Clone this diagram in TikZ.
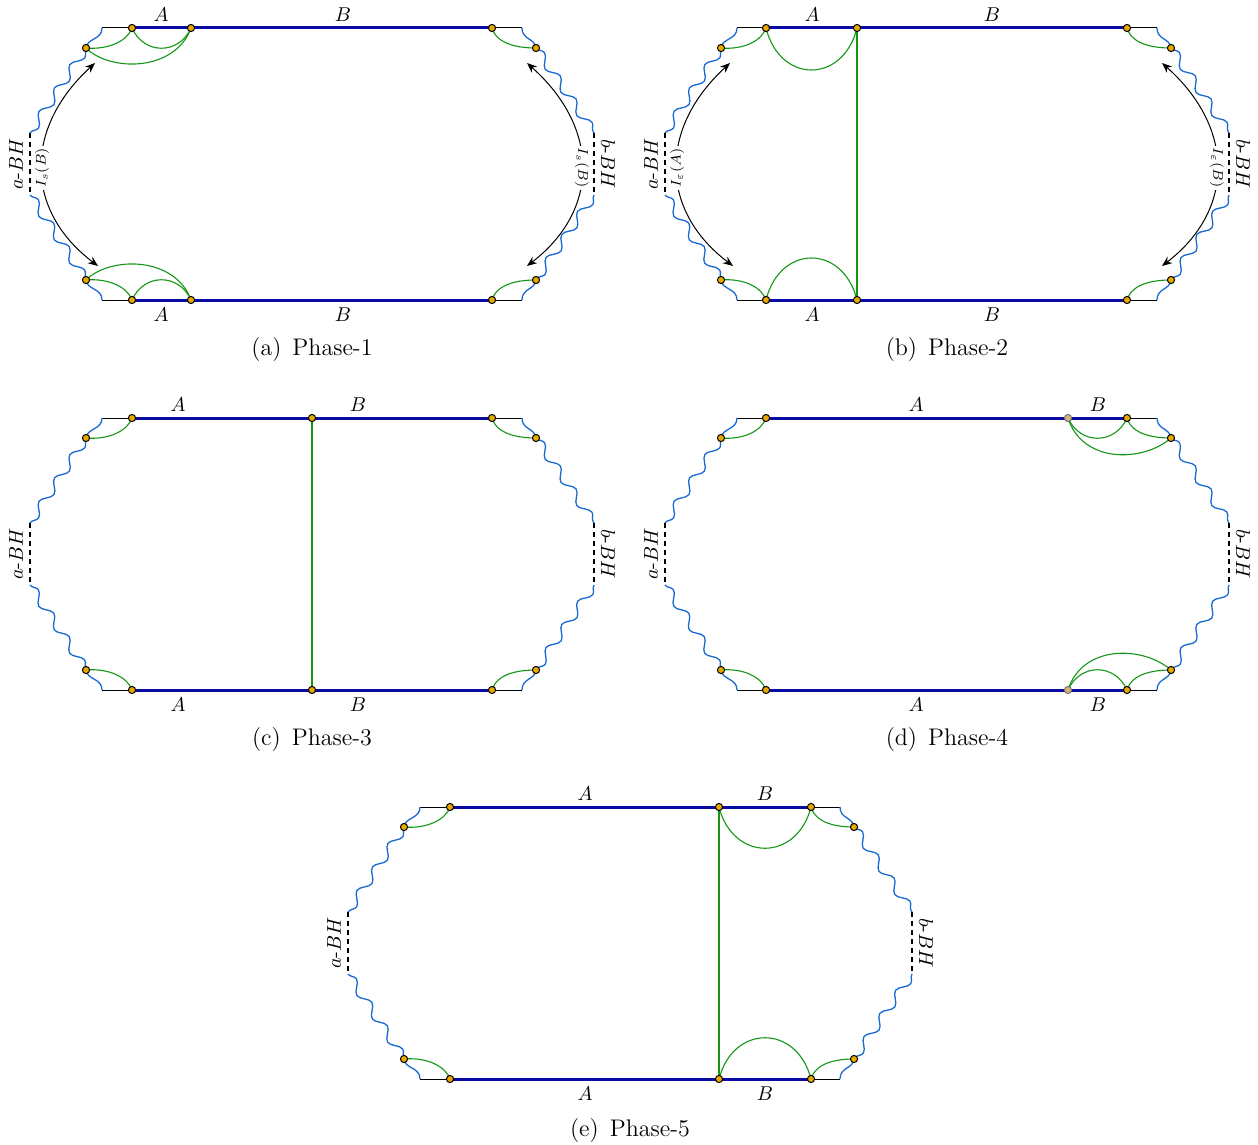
\documentclass[tikz,border=0pt]{standalone}
\usetikzlibrary{decorations.pathmorphing,arrows.meta}
\pgfdeclarelayer{fg}
\pgfsetlayers{main,fg}
\definecolor{dotfill}{RGB}{232,168,0}
\definecolor{dotlightfill}{RGB}{214,182,115}
\definecolor{thickblue}{RGB}{10,10,165}
\definecolor{wavecol}{RGB}{25,105,210}
\definecolor{arcgreen}{RGB}{20,150,20}
\tikzset{
  dot/.style={circle,draw=black,fill=dotfill,line width=0.5pt,inner sep=0pt,minimum size=3.6pt},
  dotlight/.style={circle,draw=black!55,fill=dotlightfill,line width=0.5pt,inner sep=0pt,minimum size=3.6pt},
  edge/.style={draw=black,line width=0.5pt},
  bluebar/.style={draw=thickblue,line width=1.5pt},
  wave/.style={draw=wavecol,line width=0.65pt},
  snk/.style={decorate,decoration={snake,segment length=14pt,amplitude=2.2pt}},
  bh/.style={draw=black,line width=0.9pt,dash pattern=on 2.5pt off 2pt},
  garc/.style={draw=arcgreen,line width=0.55pt},
  bharrow/.style={draw=black,line width=0.5pt,{Stealth[length=5pt,width=4pt]}-{Stealth[length=5pt,width=4pt]}},
  ilab/.style={fill=white,inner sep=1pt,font=\scriptsize},
  lab/.style={inner sep=1pt},
  captext/.style={inner sep=1pt,font=\large}
}
\newcommand\mkframe[1]{%
  \coordinate (#1tl) at (-210,0);
  \coordinate (#1tr) at (210,0);
  \coordinate (#1bl) at (-210,272);
  \coordinate (#1br) at (210,272);
  \coordinate (#1dla) at (-282,105);
  \coordinate (#1dlb) at (-282,167);
  \coordinate (#1dra) at (282,105);
  \coordinate (#1drb) at (282,167);
  \begin{pgfonlayer}{fg}
    \node[dot] (#1slt) at (-226,20) {};
    \node[dot] (#1srt) at (224,20) {};
    \node[dot] (#1slb) at (-226,252) {};
    \node[dot] (#1srb) at (224,252) {};
  \end{pgfonlayer}
  \draw[edge] (#1tl) -- (#1tr);
  \draw[edge] (#1bl) -- (#1br);
  \draw[wave] (#1tl) .. controls +(0,12) and +(1,-10) .. (#1slt.center);
  \draw[wave,snk] (#1slt.center) -- (#1dla);
  \draw[wave,snk] (#1dlb) -- (#1slb.center);
  \draw[wave] (#1slb.center) .. controls +(1,10) and +(0,-12) .. (#1bl);
  \draw[wave] (#1tr) .. controls +(0,12) and +(-1,-10) .. (#1srt.center);
  \draw[wave,snk] (#1srt.center) -- (#1dra);
  \draw[wave,snk] (#1drb) -- (#1srb.center);
  \draw[wave] (#1srb.center) .. controls +(-1,10) and +(0,-12) .. (#1br);
  \draw[bh] (#1dla) -- (#1dlb);
  \draw[bh] (#1dra) -- (#1drb);
  \node[rotate=90] (#1lbha) at (-296,136) {$a$-$BH$};
  \node[rotate=-90] (#1lbhb) at (296,136) {$b$-$BH$};
}
% side arcs: #1 prefix, #2 top-left inner dot, #3 top-right inner dot, #4 bottom-left inner, #5 bottom-right inner
\newcommand\sidearcs[5]{%
  \draw[garc] (#1slt.center) .. controls +(24,2) and +(-4,12) .. (#2.center);
  \draw[garc] (#3.center) .. controls +(5,17) and +(-16,0) .. (#1srt.center);
  \draw[garc] (#1slb.center) .. controls +(24,-2) and +(-4,-12) .. (#4.center);
  \draw[garc] (#5.center) .. controls +(5,-17) and +(-16,0) .. (#1srb.center);
}
\newcommand\bharrows[3]{%
  \coordinate (#1ala) at (-214,238);
  \coordinate (#1alb) at (-217,35);
  \coordinate (#1ara) at (215,35);
  \coordinate (#1arb) at (215,238);
  \draw[bharrow] (#1ala) .. controls (-288,182) and (-288,100) .. (#1alb)
     node[ilab,pos=0.5,rotate=90] (#1il) {#2};
  \draw[bharrow] (#1ara) .. controls (288,100) and (288,182) .. (#1arb)
     node[ilab,pos=0.5,rotate=-90] (#1ir) {#3};
}
\newcommand\captxt[2]{(#1)\hspace{5.5pt}Phase-#2}
\begin{document}
\begin{tikzpicture}[x=0.5pt,y=-0.5pt]
\useasboundingbox (0,0) rectangle (1258,1145);

% ---------------- (a) Phase-1
\begin{scope}[shift={(312,28)}]
  \mkframe{a}
  \begin{pgfonlayer}{fg}
    \node[dot] (at1) at (-180,0) {};
    \node[dot] (at2) at (-121,0) {};
    \node[dot] (at3) at (180,0) {};
    \node[dot] (ab1) at (-180,272) {};
    \node[dot] (ab2) at (-121,272) {};
    \node[dot] (ab3) at (180,272) {};
  \end{pgfonlayer}
  \draw[bluebar] (at1.center) -- (at3.center);
  \draw[bluebar] (ab1.center) -- (ab3.center);
  \sidearcs{a}{at1}{at3}{ab1}{ab3}
  \draw[garc] (at1.center) .. controls +(12,27) and +(-12,27) .. (at2.center);
  \draw[garc] (aslt.center) .. controls +(24,24) and +(-16,44) .. (at2.center);
  \draw[garc] (ab1.center) .. controls +(12,-27) and +(-12,-27) .. (ab2.center);
  \draw[garc] (aslb.center) .. controls +(24,-24) and +(-16,-44) .. (ab2.center);
  \bharrows{a}{$I_s(B)$}{$I_s(B)$}
  \node[lab] (aA1) at (-151,-13) {$A$};
  \node[lab] (aB1) at (31,-13) {$B$};
  \node[lab] (aA2) at (-151,287) {$A$};
  \node[lab] (aB2) at (31,287) {$B$};
  \node[captext] (acap) at (0,322) {\captxt{a}{1}};
\end{scope}

% ---------------- (b) Phase-2
\begin{scope}[shift={(947,28)}]
  \mkframe{b}
  \begin{pgfonlayer}{fg}
    \node[dot] (bt1) at (-181,0) {};
    \node[dot] (bt2) at (-90,0) {};
    \node[dot] (bt3) at (180,0) {};
    \node[dot] (bb1) at (-181,272) {};
    \node[dot] (bb2) at (-90,272) {};
    \node[dot] (bb3) at (180,272) {};
  \end{pgfonlayer}
  \draw[bluebar] (bt1.center) -- (bt3.center);
  \draw[bluebar] (bb1.center) -- (bb3.center);
  \sidearcs{b}{bt1}{bt3}{bb1}{bb3}
  \draw[garc] (bt1.center) .. controls +(14,56) and +(-14,56) .. (bt2.center);
  \draw[garc] (bb1.center) .. controls +(14,-56) and +(-14,-56) .. (bb2.center);
  \draw[garc] (bt2.center) -- (bb2.center);
  \bharrows{b}{$I_\varepsilon(A)$}{$I_\varepsilon(B)$}
  \node[lab] (bA1) at (-135,-13) {$A$};
  \node[lab] (bB1) at (45,-13) {$B$};
  \node[lab] (bA2) at (-135,287) {$A$};
  \node[lab] (bB2) at (45,287) {$B$};
  \node[captext] (bcap) at (0,322) {\captxt{b}{2}};
\end{scope}

% ---------------- (c) Phase-3
\begin{scope}[shift={(312,418)}]
  \mkframe{c}
  \begin{pgfonlayer}{fg}
    \node[dot] (ct1) at (-180,0) {};
    \node[dot] (ct2) at (0,0) {};
    \node[dot] (ct3) at (180,0) {};
    \node[dot] (cb1) at (-180,272) {};
    \node[dot] (cb2) at (0,272) {};
    \node[dot] (cb3) at (180,272) {};
  \end{pgfonlayer}
  \draw[bluebar] (ct1.center) -- (ct3.center);
  \draw[bluebar] (cb1.center) -- (cb3.center);
  \sidearcs{c}{ct1}{ct3}{cb1}{cb3}
  \draw[garc] (ct2.center) -- (cb2.center);
  \node[lab] (cA1) at (-134,-13) {$A$};
  \node[lab] (cB1) at (46,-13) {$B$};
  \node[lab] (cA2) at (-134,287) {$A$};
  \node[lab] (cB2) at (46,287) {$B$};
  \node[captext] (ccap) at (0,322) {\captxt{c}{3}};
\end{scope}

% ---------------- (d) Phase-4
\begin{scope}[shift={(947,418)}]
  \mkframe{d}
  \begin{pgfonlayer}{fg}
    \node[dot] (dt1) at (-181,0) {};
    \node[dotlight] (dt2) at (121,0) {};
    \node[dot] (dt3) at (180,0) {};
    \node[dot] (db1) at (-181,272) {};
    \node[dotlight] (db2) at (121,272) {};
    \node[dot] (db3) at (180,272) {};
  \end{pgfonlayer}
  \draw[bluebar] (dt1.center) -- (dt3.center);
  \draw[bluebar] (db1.center) -- (db3.center);
  \sidearcs{d}{dt1}{dt3}{db1}{db3}
  \draw[garc] (dt2.center) .. controls +(12,27) and +(-12,27) .. (dt3.center);
  \draw[garc] (dt2.center) .. controls +(14,45) and +(-29,25) .. (dsrt.center);
  \draw[garc] (db2.center) .. controls +(12,-27) and +(-12,-27) .. (db3.center);
  \draw[garc] (db2.center) .. controls +(14,-45) and +(-29,-25) .. (dsrb.center);
  \node[lab] (dA1) at (-31,-13) {$A$};
  \node[lab] (dB1) at (151,-13) {$B$};
  \node[lab] (dA2) at (-31,287) {$A$};
  \node[lab] (dB2) at (151,287) {$B$};
  \node[captext] (dcap) at (0,322) {\captxt{d}{4}};
\end{scope}

% ---------------- (e) Phase-5
\begin{scope}[shift={(630,807)}]
  \mkframe{e}
  \begin{pgfonlayer}{fg}
    \node[dot] (et1) at (-180,0) {};
    \node[dot] (et2) at (89,0) {};
    \node[dot] (et3) at (181,0) {};
    \node[dot] (eb1) at (-180,272) {};
    \node[dot] (eb2) at (89,272) {};
    \node[dot] (eb3) at (181,272) {};
  \end{pgfonlayer}
  \draw[bluebar] (et1.center) -- (et3.center);
  \draw[bluebar] (eb1.center) -- (eb3.center);
  \sidearcs{e}{et1}{et3}{eb1}{eb3}
  \draw[garc] (et2.center) .. controls +(14,55) and +(-14,55) .. (et3.center);
  \draw[garc] (eb2.center) .. controls +(14,-55) and +(-14,-55) .. (eb3.center);
  \draw[garc] (et2.center) -- (eb2.center);
  \node[lab] (eA1) at (-45,-13) {$A$};
  \node[lab] (eB1) at (135,-13) {$B$};
  \node[lab] (eA2) at (-45,287) {$A$};
  \node[lab] (eB2) at (135,287) {$B$};
  \node[captext] (ecap) at (0,323) {\captxt{e}{5}};
\end{scope}
\end{tikzpicture}
\end{document}
